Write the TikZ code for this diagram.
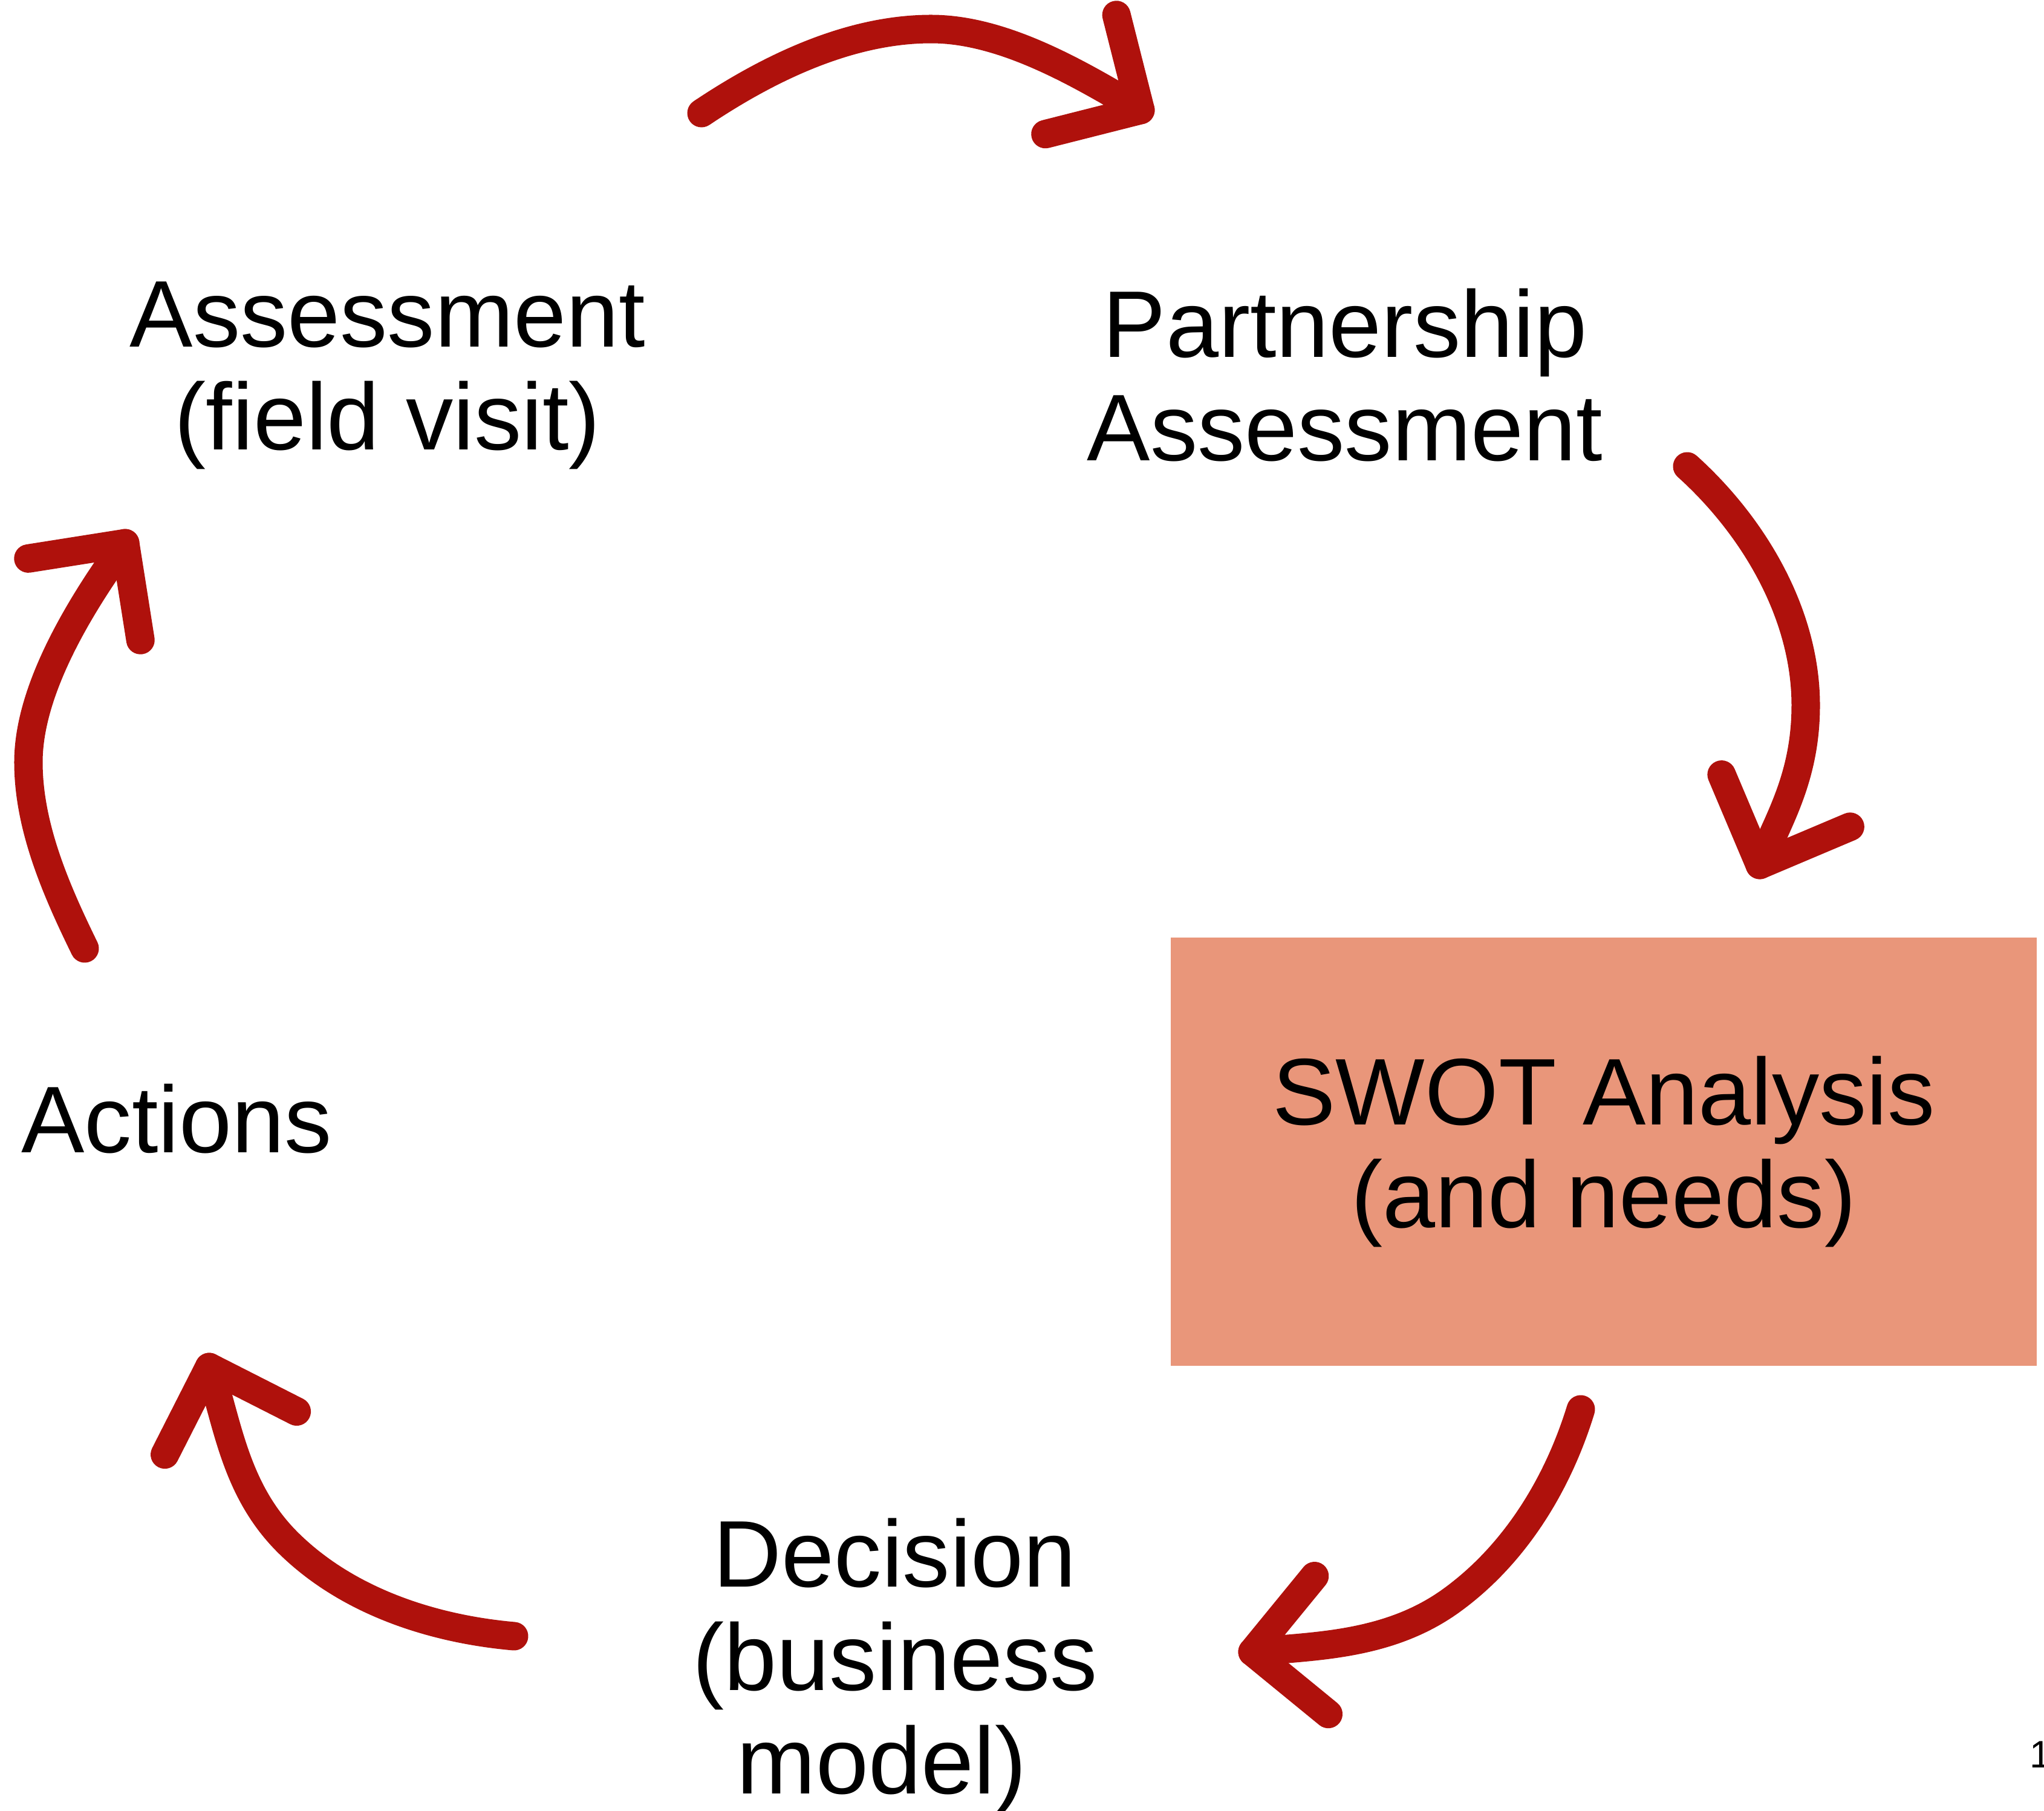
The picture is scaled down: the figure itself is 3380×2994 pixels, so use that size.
\documentclass[tikz,border=0pt]{standalone}
\usepackage{fontspec}
\setmainfont{Liberation Sans}
\usetikzlibrary{decorations.markings}
\definecolor{arrowred}{RGB}{175,17,12}
\definecolor{swotfill}{RGB}{233,150,122}
\tikzset{phase/.style={inner sep=0pt, align=center, font=\fontsize{44.5}{48.5}\selectfont}}
\tikzset{redline/.style={draw=arrowred, line width=0.47cm, line cap=round, line join=round}}
\tikzset{cyclearrow/.style={redline, decoration={
      markings,
      mark=at position 0.9999 with {\draw[redline] (-1.146cm,1.146cm) -- (0,0) -- (-1.146cm,-1.146cm);}},postaction={decorate}}}

\begin{document}
\begin{tikzpicture}[x=0.01cm,y=-0.01cm]
		\useasboundingbox (0,0) rectangle (3380,2994);
		% the five steps
		\node[phase] (field) at (641,621) {Assessment\\(field visit)};
		\node[phase] (partner) at (2224,620) {Partnership\\Assessment};
		\node[phase, fill=swotfill, minimum width=14.31cm, minimum height=7.07cm] (swot) at (2652,1904) {SWOT Analysis\\(and needs)};
		\node[phase] (decision) at (1480,2754) {Decision\\(business\\model)\hspace*{.28em}};
		\node[phase] (actions) at (292,1850) {Actions};
		\node[anchor=base west, inner sep=0pt, font=\fontsize{18}{20}\selectfont] (page) at (3356,2922) {1};
		% arrow ends
		\coordinate (fieldout) at (1160,187);
		\coordinate (partnerin) at (1886,182);
		\coordinate (partnerout) at (2790,771);
		\coordinate (swotin) at (2910,1430);
		\coordinate (swotout) at (2614,2330);
		\coordinate (decisionin) at (2071,2731);
		\coordinate (decisionout) at (850,2705);
		\coordinate (actionsin) at (346,2260);
		\coordinate (actionsout) at (140,1568);
		\coordinate (fieldin) at (207,898);
		% the cycle
		\draw[cyclearrow] (fieldout) .. controls (1272,112) and (1405,48) .. (1540,48)
			.. controls (1660,48) and (1787,123) .. (partnerin);
		\draw[cyclearrow] (partnerout) .. controls (2901,871) and (2986,1016) .. (2986,1166)
			.. controls (2986,1286) and (2940,1356) .. (swotin);
		\draw[cyclearrow] (swotout) .. controls (2576,2454) and (2505,2570) .. (2400,2646)
			.. controls (2295,2722) and (2171,2721) .. (decisionin);
		\draw[cyclearrow] (decisionout) .. controls (714,2693) and (575,2647) .. (478,2552)
			.. controls (389,2465) and (377,2355) .. (actionsin);
		\draw[cyclearrow] (actionsout) .. controls (93,1472) and (47,1367) .. (47,1260)
			.. controls (47,1150) and (119,1019) .. (fieldin);
\end{tikzpicture}
\end{document}
